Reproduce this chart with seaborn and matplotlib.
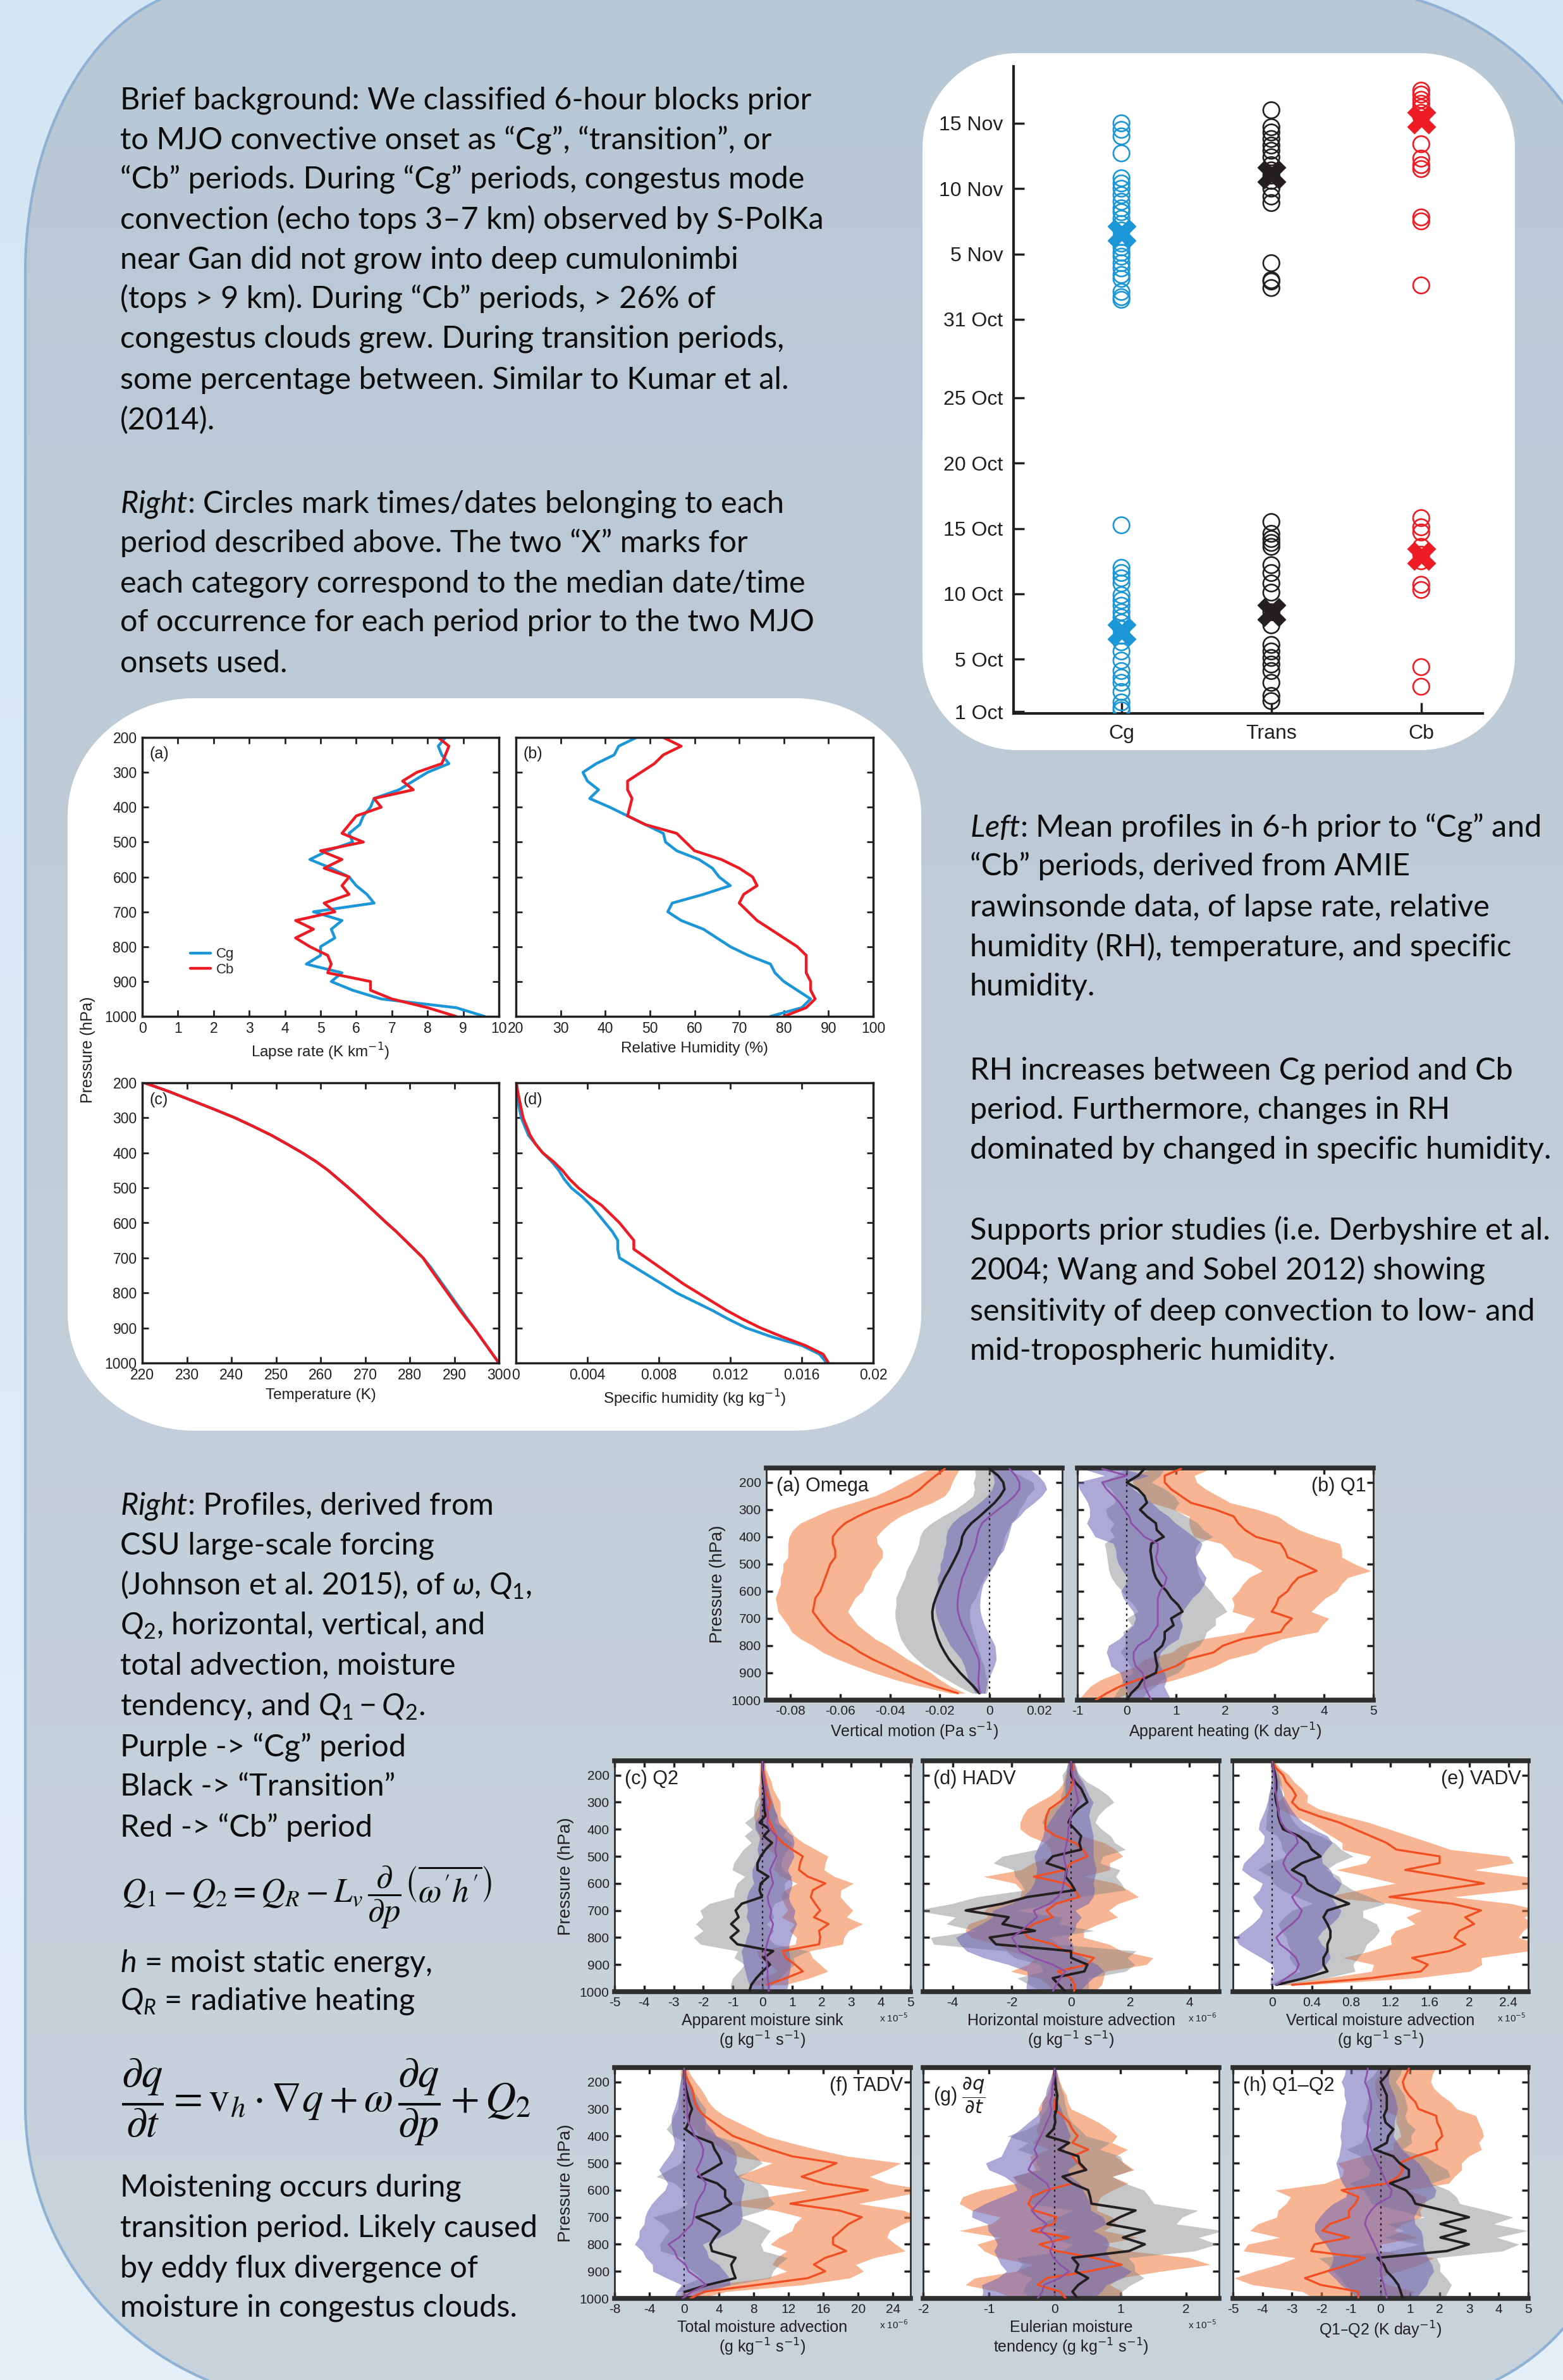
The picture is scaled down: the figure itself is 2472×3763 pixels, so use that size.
import numpy as np
import matplotlib
matplotlib.use("Agg")
import matplotlib.pyplot as plt
from matplotlib.patches import Polygon
from matplotlib.colors import LinearSegmentedColormap
import seaborn as sns

nan = np.nan
W, H = 2472, 3763

# ---------------- data: date classification ----------------
periods = ["Cg", "Trans", "Cb"]
cg_dates = [46.0, 45.5, 45.0, 43.7, 41.8, 41.4, 41.0, 40.5, 40.0, 39.5, 39.2, 38.7, 38.3, 37.8,
            37.3, 36.8, 36.5, 36.1, 35.8, 35.3, 34.9, 34.4, 34.1, 33.1, 32.7, 32.5,
            15.25, 12.0, 11.6, 11.2, 10.8, 9.9, 9.5, 9.1, 8.6, 8.2, 7.8, 7.3, 6.8, 6.3,
            5.6, 4.9, 4.1, 3.6, 3.2, 2.5, 1.7, 1.3, 1.1]
trans_dates = [47.0, 45.7, 45.3, 44.8, 44.3, 43.9, 43.4, 42.8, 42.4, 42.0, 41.6, 41.0, 40.4,
               39.9, 35.3, 34.0, 33.9, 33.4,
               15.5, 14.6, 14.2, 13.9, 13.6, 12.2, 11.6, 10.8, 10.1, 8.6, 7.6, 6.1, 5.6,
               5.1, 4.6, 4.1, 3.2, 2.2, 1.8]
cb_dates = [48.5, 48.2, 47.8, 47.5, 47.2, 46.8, 46.5, 44.4, 43.3, 42.8, 42.5, 38.8, 38.5, 33.6,
            15.8, 15.1, 14.7, 13.6, 13.0, 12.5, 10.7, 10.3, 4.4, 2.9]
cg_median = [37.6, 7.1]
trans_median = [42.1, 8.6]
cb_median = [46.3, 12.9]
date_ticks = [1, 5, 10, 15, 20, 25, 31, 36, 41, 46]
date_labels = ["1 Oct", "5 Oct", "10 Oct", "15 Oct", "20 Oct", "25 Oct", "31 Oct",
               "5 Nov", "10 Nov", "15 Nov"]

# ---------------- data: sounding profiles ----------------
prof_lev = [200, 225, 250, 275, 300, 325, 350, 375, 400, 425, 450, 475, 500, 525, 550, 575, 600,
            625, 650, 675, 700, 725, 750, 775, 800, 825, 850, 875, 900, 925, 950, 975, 1000]
lapse_cg = [8.5, 8.3, 8.4, 8.6, 8.0, 7.6, 7.2, 6.5, 6.4, 6.2, 6.1, 5.8, 5.9, 5.2, 4.7, 5.3, 5.8,
            6.0, 6.3, 6.5, 4.8, 5.6, 5.3, 5.4, 5.0, 5.0, 4.6, 5.6, 5.3, 5.9, 6.7, 8.8, 9.6]
lapse_cb = [8.3, 8.6, 8.5, 8.4, 7.7, 7.3, 7.6, 6.5, 6.7, 6.0, 5.8, 5.6, 6.2, 5.0, 5.6, 5.1, 5.8,
            5.6, 5.8, 5.1, 5.4, 4.3, 4.8, 4.3, 4.7, 5.2, 5.3, 5.2, 6.4, 6.4, 7.0, 8.0, 8.8]
rh_cg = [47, 43, 42, 38, 35, 36, 38.5, 36.5, 41, 45, 49, 53, 53.5, 56, 61, 64, 65.5,
         68, 62, 55, 54, 57, 62, 65, 68, 72, 77, 78, 80, 83, 86, 84, 77]
rh_cb = [53, 57, 53, 51, 48, 45, 45, 46, 45.5, 45, 49, 56, 58, 60, 66, 70, 73,
         74, 71, 70, 72, 74, 77, 80, 83, 85, 85, 85, 86, 86, 87, 85, 80]
temp_cg = [220.5, 226, 231, 236, 240.8, 245, 249, 252.5, 255.9, 259, 261.7, 264, 266.3, 268.5,
           270.6, 272.7, 274.8, 277, 279, 281, 283, 284.6, 286, 287.4, 288.8, 290.2, 291.6,
           293, 294.4, 295.8, 297.2, 298.6, 300]
temp_cb = [220.5, 226, 231, 236, 240.8, 245, 249, 252.5, 255.9, 259, 261.7, 264, 266.3, 268.5,
           270.6, 272.7, 274.8, 277, 279, 281, 283, 284.3, 285.7, 287.1, 288.5, 289.9, 291.3,
           292.8, 294.4, 295.8, 297.2, 298.6, 300]
q_cg = [0.00002, 0.00005, 0.0001, 0.0002, 0.0003, 0.0005, 0.0007, 0.0011, 0.0015, 0.0020, 0.0024,
        0.0027, 0.0031, 0.0037, 0.0042, 0.0046, 0.0050, 0.0054, 0.0057, 0.0057, 0.0058, 0.0066,
        0.0074, 0.0082, 0.0090, 0.0100, 0.0110, 0.0119, 0.0129, 0.0143, 0.0160, 0.0170, 0.0174]
q_cb = [0.00003, 0.0001, 0.0002, 0.0003, 0.0004, 0.0006, 0.0008, 0.0011, 0.0015, 0.0021, 0.0026,
        0.0030, 0.0035, 0.0041, 0.0048, 0.0053, 0.0058, 0.0062, 0.0066, 0.0066, 0.0073, 0.0080,
        0.0087, 0.0094, 0.0102, 0.0110, 0.0118, 0.0127, 0.0137, 0.0149, 0.0162, 0.0172, 0.0175]

# ---------------- data: large-scale forcing composites ----------------
lev = [150, 175, 200, 225, 250, 275, 300, 325, 350, 375, 400, 425, 450, 475, 500, 525, 550, 575,
       600, 625, 650, 675, 700, 725, 750, 775, 800, 825, 850, 875, 900, 925, 950, 975, 1000]

omega_cb = [-0.018, -0.0216, -0.025, -0.028, -0.032, -0.039, -0.047, -0.053, -0.058, -0.061, -0.063, -0.063, -0.062, -0.062, -0.064, -0.065, -0.066, -0.067, -0.068, -0.070, -0.0705, -0.071, -0.069, -0.067, -0.0645, -0.061, -0.056, -0.052, -0.047, -0.041, -0.035, -0.029, -0.0216, -0.0127, nan]
omega_cb_sd = [0.006, 0.008, 0.010, 0.012, 0.014, 0.016, 0.017, 0.017, 0.018, 0.018, 0.0175, 0.018, 0.019, 0.019, 0.019, 0.018, 0.018, 0.017, 0.017, 0.016, 0.015, 0.014, 0.014, 0.014, 0.015, 0.015, 0.015, 0.015, 0.014, 0.013, 0.0115, 0.009, 0.006, 0.003, nan]
omega_tr = [0.0, 0.0034, 0.0055, 0.006, 0.0043, 0.002, -0.001, -0.004, -0.0073, -0.0096, -0.011, -0.0114, -0.0123, -0.0136, -0.015, -0.0164, -0.018, -0.0193, -0.0205, -0.0216, -0.0225, -0.023, -0.0229, -0.0223, -0.0216, -0.0207, -0.0195, -0.018, -0.0163, -0.0141, -0.0118, -0.0091, -0.0064, -0.0041, nan]
omega_tr_sd = [0.006, 0.009, 0.012, 0.012, 0.011, 0.012, 0.013, 0.015, 0.016, 0.017, 0.017, 0.017, 0.017, 0.017, 0.017, 0.017, 0.016, 0.016, 0.016, 0.016, 0.015, 0.015, 0.015, 0.015, 0.015, 0.015, 0.0145, 0.014, 0.013, 0.012, 0.010, 0.008, 0.006, 0.003, nan]
omega_cg = [0.008, 0.0105, 0.012, 0.012, 0.010, 0.007, 0.0034, 0.0, -0.003, -0.0043, -0.005, -0.0055, -0.0064, -0.0077, -0.0088, -0.0098, -0.011, -0.0116, -0.0123, -0.0127, -0.0129, -0.0127, -0.012, -0.011, -0.0096, -0.0082, -0.0068, -0.0055, -0.0043, -0.0041, -0.0043, -0.0045, -0.0043, -0.0037, nan]
omega_cg_sd = [0.008, 0.009, 0.010, 0.011, 0.011, 0.011, 0.011, 0.012, 0.012, 0.0125, 0.0125, 0.012, 0.012, 0.011, 0.011, 0.010, 0.010, 0.009, 0.009, 0.009, 0.009, 0.009, 0.009, 0.009, 0.009, 0.009, 0.009, 0.008, 0.007, 0.006, 0.005, 0.004, 0.003, 0.002, nan]

q1_cb = [1.1, 0.77, 0.77, 0.9, 1.1, 1.3, 1.8, 2.17, 2.26, 2.4, 2.62, 3.12, 3.21, 3.26, 3.57, 3.85, 3.48, 3.35, 3.26, 3.08, 3.03, 2.94, 3.35, 3.21, 3.12, 2.35, 1.95, 1.76, 1.22, 1.0, 0.63, 0.23, -0.14, -0.41, -0.63]
q1_cb_sd = [0.6, 0.6, 0.65, 0.7, 0.75, 0.8, 0.85, 0.9, 1.0, 1.1, 1.25, 1.2, 1.15, 1.1, 1.05, 1.1, 1.0, 1.0, 1.0, 0.95, 0.85, 0.8, 0.75, 0.75, 0.75, 0.8, 0.85, 0.85, 0.85, 0.8, 0.8, 0.75, 0.6, 0.45, 0.35]
q1_tr = [0.36, 0.23, 0.0, 0.23, 0.36, 0.41, 0.27, 0.41, 0.59, 0.61, 0.75, 0.5, 0.48, 0.5, 0.52, 0.54, 0.59, 0.68, 0.81, 0.9, 1.04, 1.13, 0.9, 0.95, 0.77, 0.77, 0.72, 0.57, 0.59, 0.62, 0.59, 0.32, 0.23, 0.09, 0.0]
q1_tr_sd = [0.4, 0.45, 0.5, 0.55, 0.6, 0.65, 0.7, 0.8, 0.85, 0.95, 1.0, 0.95, 0.9, 0.9, 0.9, 0.9, 0.9, 0.9, 0.9, 0.9, 0.9, 0.9, 0.9, 0.85, 0.85, 0.8, 0.75, 0.7, 0.6, 0.55, 0.45, 0.4, 0.35, 0.3, 0.3]
q1_cg = [-0.5, 0.0, -0.5, -0.41, -0.27, -0.14, -0.05, 0.05, 0.09, 0.23, 0.36, 0.63, 0.63, 0.59, 0.63, 0.72, 0.81, 0.77, 0.68, 0.63, 0.63, 0.63, 0.63, 0.63, 0.54, 0.45, 0.23, 0.14, 0.14, 0.18, 0.32, 0.36, 0.36, 0.43, 0.5]
q1_cg_sd = [0.4, 0.45, 0.5, 0.55, 0.6, 0.65, 0.7, 0.8, 0.9, 0.95, 1.0, 0.9, 0.85, 0.8, 0.8, 0.8, 0.8, 0.8, 0.8, 0.7, 0.6, 0.5, 0.45, 0.5, 0.55, 0.6, 0.6, 0.55, 0.5, 0.5, 0.45, 0.45, 0.4, 0.4, 0.4]

q2_cb = [0.0, 0.0, 0.05, 0.1, 0.1, 0.17, 0.25, 0.2, 0.15, 0.25, 0.36, 0.47, 0.68, 1.0, 1.36, 1.27, 1.23, 1.53, 2.12, 1.7, 1.63, 1.78, 1.95, 1.74, 2.23, 1.91, 1.95, 1.91, 0.68, 0.79, 1.1, 1.36, 0.79, 0.15, nan]
q2_cb_sd = [0.1, 0.1, 0.15, 0.2, 0.25, 0.3, 0.35, 0.4, 0.45, 0.5, 0.55, 0.6, 0.7, 0.8, 0.85, 0.85, 0.85, 0.9, 0.95, 0.95, 1.0, 1.05, 1.1, 1.1, 1.15, 1.0, 0.8, 0.8, 0.9, 0.9, 0.85, 0.85, 0.8, 0.6, nan]
q2_tr = [0.0, 0.0, 0.0, 0.02, 0.05, 0.08, 0.05, 0.06, 0.1, -0.1, 0.25, 0.04, 0.32, 0.1, -0.06, -0.17, -0.17, 0.2, -0.06, -0.1, -0.02, -0.7, -0.91, -0.81, -1.06, -0.81, -1.08, -0.85, 0.36, 0.04, 0.25, 0.0, -0.21, -0.38, -0.45]
q2_tr_sd = [0.05, 0.05, 0.08, 0.1, 0.15, 0.2, 0.3, 0.35, 0.4, 0.5, 0.6, 0.65, 0.7, 0.75, 0.75, 0.8, 0.85, 0.8, 0.8, 0.85, 0.95, 1.1, 1.2, 1.2, 1.2, 1.2, 1.25, 1.25, 1.2, 1.0, 0.85, 0.8, 0.8, 0.7, 0.6]
q2_cg = [0.0, 0.0, 0.02, 0.05, 0.08, 0.1, 0.12, 0.15, 0.2, 0.15, 0.25, 0.47, 0.47, 0.42, 0.47, 0.36, 0.25, 0.3, 0.36, 0.25, 0.17, 0.21, 0.3, 0.25, 0.36, 0.3, 0.21, 0.15, 0.08, 0.13, 0.15, 0.17, 0.17, 0.21, 0.21]
q2_cg_sd = [0.05, 0.06, 0.08, 0.1, 0.12, 0.15, 0.2, 0.25, 0.3, 0.4, 0.5, 0.55, 0.6, 0.6, 0.6, 0.6, 0.6, 0.65, 0.65, 0.7, 0.7, 0.75, 0.8, 0.8, 0.8, 0.75, 0.75, 0.75, 0.8, 0.8, 0.8, 0.75, 0.7, 0.65, 0.6]

hadv_cb = [0.0, 0.05, 0.0, 0.06, 0.0, -0.13, -0.4, -0.73, -0.83, -0.87, -0.87, -0.51, 0.13, 0.4, 0.55, 0.0, -0.19, -1.26, -0.19, 0.13, 0.28, -0.51, -0.83, -0.62, -1.26, -1.58, -1.47, -0.62, -0.19, 0.77, 0.55, -0.45, 0.0, 0.13, 0.1]
hadv_cb_sd = [0.1, 0.15, 0.2, 0.3, 0.4, 0.55, 0.7, 0.75, 0.8, 0.85, 0.85, 0.9, 1.0, 1.1, 1.2, 1.3, 1.5, 1.7, 1.7, 1.8, 2.0, 2.1, 2.1, 2.2, 2.2, 2.0, 1.9, 1.9, 1.9, 2.0, 2.0, 1.6, 1.1, 0.9, 0.7]
hadv_tr = [0.0, 0.0, 0.0, 0.13, 0.34, 0.45, 0.55, 0.23, 0.02, -0.09, 0.13, 0.34, 0.28, 0.34, -0.62, -0.83, -0.15, -0.19, 0.0, 0.13, -1.47, -2.32, -3.56, -2.11, -2.32, -1.22, -2.75, -2.54, 0.0, 0.0, 0.55, 0.45, -0.62, -0.41, -0.19]
hadv_tr_sd = [0.1, 0.15, 0.3, 0.4, 0.6, 0.8, 0.9, 0.9, 0.9, 0.9, 0.9, 1.0, 1.2, 1.5, 1.7, 1.8, 1.8, 1.7, 1.7, 1.7, 1.7, 1.7, 1.7, 1.8, 1.9, 2.0, 2.0, 2.1, 2.2, 1.9, 1.6, 1.4, 1.2, 1.0, 0.8]
hadv_cg = [0.0, 0.0, 0.05, 0.1, 0.15, 0.2, 0.25, 0.1, 0.0, -0.05, -0.1, -0.1, -0.15, -0.2, -0.25, -0.2, -0.15, -0.2, -0.25, -0.3, -0.45, -0.72, -1.26, -1.15, -1.43, -1.68, -2.0, -1.85, -1.73, -1.26, -0.62, -0.19, -0.36, -0.51, -0.62]
hadv_cg_sd = [0.1, 0.15, 0.2, 0.3, 0.35, 0.4, 0.5, 0.55, 0.6, 0.7, 0.8, 0.85, 0.9, 0.95, 1.0, 1.0, 1.0, 1.0, 1.0, 1.1, 1.2, 1.3, 1.4, 1.5, 1.6, 1.8, 1.9, 1.9, 1.8, 1.7, 1.5, 1.3, 1.1, 1.0, 0.9]

vadv_cb = [0.0, 0.04, 0.11, 0.14, 0.2, 0.24, 0.2, 0.27, 0.46, 0.68, 0.84, 1.0, 1.16, 1.26, 1.7, 1.7, 1.35, 1.77, 2.15, 1.67, 1.19, 1.83, 2.12, 1.96, 2.05, 1.9, 1.85, 1.96, 1.8, 1.42, 1.58, 1.51, 1.0, 0.2, nan]
vadv_cb_sd = [0.02, 0.04, 0.06, 0.08, 0.1, 0.12, 0.15, 0.2, 0.25, 0.3, 0.35, 0.4, 0.45, 0.55, 0.7, 0.75, 0.7, 0.8, 0.9, 0.8, 0.65, 0.6, 0.6, 0.6, 0.6, 0.65, 0.65, 0.75, 0.8, 0.7, 0.55, 0.5, 0.45, 0.15, nan]
vadv_tr = [0.0, 0.01, 0.03, 0.04, 0.04, 0.03, 0.04, 0.06, 0.06, 0.08, 0.11, 0.27, 0.36, 0.4, 0.49, 0.3, 0.2, 0.33, 0.36, 0.46, 0.62, 0.78, 0.56, 0.52, 0.56, 0.59, 0.59, 0.56, 0.56, 0.52, 0.52, 0.56, 0.33, 0.04, nan]
vadv_tr_sd = [0.02, 0.03, 0.04, 0.05, 0.06, 0.07, 0.08, 0.1, 0.12, 0.14, 0.18, 0.22, 0.27, 0.3, 0.33, 0.35, 0.35, 0.35, 0.35, 0.36, 0.37, 0.37, 0.36, 0.4, 0.5, 0.5, 0.45, 0.4, 0.37, 0.35, 0.3, 0.28, 0.22, 0.08, nan]
vadv_cg = [0.0, 0.01, 0.02, 0.03, 0.03, 0.04, 0.05, 0.06, 0.07, 0.09, 0.14, 0.24, 0.26, 0.2, 0.14, 0.11, 0.14, 0.2, 0.3, 0.27, 0.2, 0.24, 0.3, 0.27, 0.2, 0.11, 0.04, 0.08, 0.17, 0.24, 0.27, 0.24, 0.14, 0.04, nan]
vadv_cg_sd = [0.01, 0.02, 0.03, 0.04, 0.05, 0.07, 0.1, 0.13, 0.17, 0.22, 0.28, 0.32, 0.35, 0.35, 0.36, 0.4, 0.45, 0.42, 0.4, 0.4, 0.4, 0.4, 0.4, 0.4, 0.4, 0.4, 0.42, 0.42, 0.4, 0.35, 0.27, 0.22, 0.16, 0.06, nan]

tadv_cb = [0.0, 0.15, 0.5, 0.9, 1.1, 1.2, 1.6, 2.3, 3.4, 4.5, 5.6, 7.7, 9.9, 12.4, 17.5, 15.7, 13.5, 16.0, 21.1, 16.8, 12.2, 17.8, 20.4, 18.9, 18.0, 17.1, 17.1, 18.6, 16.2, 14.9, 16.2, 14.2, 8.4, 2.3, 0.7]
tadv_cb_sd = [0.4, 0.6, 0.8, 1.0, 1.3, 1.6, 1.9, 2.3, 2.8, 3.3, 3.8, 4.5, 5.4, 6.4, 7.4, 7.6, 7.8, 7.4, 7.0, 7.4, 7.8, 7.4, 6.9, 6.2, 5.6, 6.2, 7.2, 6.8, 5.6, 4.8, 4.4, 4.8, 5.2, 2.5, 1.2]
tadv_tr = [0.0, 0.0, 0.07, 0.2, 0.4, 0.6, 0.9, 0.6, 0.5, 0.15, 1.2, 3.2, 3.5, 4.0, 4.3, 3.0, 1.6, 3.8, 4.7, 4.7, 5.4, 4.1, 1.4, 3.0, 4.1, 3.5, 3.0, 3.2, 5.9, 5.4, 5.6, 5.9, 2.7, 0.15, nan]
tadv_tr_sd = [0.2, 0.3, 0.5, 0.7, 1.0, 1.3, 1.6, 1.8, 2.0, 2.2, 2.5, 3.0, 3.6, 4.2, 4.7, 4.8, 4.8, 4.9, 4.9, 5.0, 5.0, 5.0, 5.0, 5.4, 5.8, 5.8, 5.8, 5.9, 6.0, 5.5, 4.6, 4.0, 2.8, 1.0, nan]
tadv_cg = [0.0, 0.0, 0.05, 0.1, 0.2, 0.3, 0.36, 0.36, 0.5, 0.9, 1.2, 1.9, 2.2, 2.1, 1.8, 1.4, 1.9, 2.5, 2.3, 1.8, 1.4, 1.2, 1.1, 0.9, 0.15, -0.6, -1.8, -1.1, -0.8, 0.15, 0.5, 1.6, 2.5, 0.9, -0.2]
tadv_cg_sd = [0.2, 0.3, 0.5, 0.7, 0.9, 1.2, 1.5, 1.8, 2.0, 2.3, 2.5, 3.0, 3.5, 3.9, 4.2, 4.3, 4.3, 4.4, 4.5, 4.8, 5.1, 5.4, 5.6, 5.5, 5.3, 4.6, 3.9, 3.7, 3.6, 3.8, 4.1, 3.6, 2.8, 1.8, 1.0]

dqdt_cb = [0.0, 0.0, 0.01, 0.02, 0.03, 0.0, 0.0, 0.12, 0.22, 0.27, 0.35, 0.27, 0.51, 0.27, 0.36, 0.46, 0.12, 0.27, -0.12, -0.35, -0.4, -0.31, 0.03, -0.02, -0.35, 0.22, -0.23, 0.03, 0.6, 1.02, 0.51, -0.12, -0.26, 0.08, 0.17]
dqdt_cb_sd = [0.02, 0.05, 0.07, 0.1, 0.15, 0.2, 0.25, 0.35, 0.45, 0.55, 0.6, 0.6, 0.6, 0.65, 0.7, 0.75, 0.75, 0.85, 1.0, 1.05, 1.05, 0.95, 0.85, 0.95, 1.1, 1.05, 0.95, 1.1, 1.45, 1.35, 1.1, 1.1, 1.1, 0.95, 0.8]
dqdt_tr = [0.0, 0.0, 0.01, 0.02, 0.04, 0.03, 0.03, 0.0, 0.01, -0.02, -0.12, 0.22, 0.06, 0.36, 0.38, 0.48, 0.12, 0.27, 0.51, 0.54, 0.56, 1.23, 0.99, 0.8, 1.37, 1.04, 1.37, 1.13, 0.27, 0.36, 0.32, 0.51, 0.36, 0.27, 0.35]
dqdt_tr_sd = [0.02, 0.04, 0.06, 0.08, 0.1, 0.12, 0.15, 0.2, 0.25, 0.4, 0.6, 0.62, 0.62, 0.64, 0.66, 0.7, 0.76, 0.8, 0.85, 0.9, 0.95, 0.95, 0.95, 1.05, 1.2, 1.15, 1.1, 1.0, 0.85, 0.85, 0.9, 0.85, 0.8, 0.75, 0.7]
dqdt_cg = [0.0, 0.0, -0.02, -0.04, -0.04, -0.07, -0.05, -0.07, -0.12, -0.16, -0.21, -0.26, -0.31, -0.26, -0.35, -0.4, -0.26, -0.12, -0.07, -0.16, -0.26, -0.35, -0.26, -0.12, -0.21, -0.07, -0.02, -0.07, -0.02, 0.08, 0.22, 0.08, -0.16, -0.19, -0.26]
dqdt_cg_sd = [0.02, 0.04, 0.06, 0.08, 0.1, 0.12, 0.15, 0.2, 0.28, 0.36, 0.45, 0.45, 0.45, 0.55, 0.7, 0.6, 0.5, 0.5, 0.5, 0.65, 0.8, 0.9, 1.0, 0.9, 0.8, 0.85, 0.85, 0.85, 0.85, 0.9, 0.95, 0.95, 0.95, 0.9, 0.85]

q12_cb = [0.96, 0.85, 0.75, 0.81, 0.96, 1.18, 1.28, 1.88, 1.92, 2.03, 2.09, 1.88, 1.92, 1.18, 0.64, 0.75, 0.6, 0.21, -1.32, -0.75, -0.85, -1.07, -1.07, -1.71, -1.97, -1.07, -2.24, -2.35, -0.53, -1.07, -1.82, -2.56, -2.03, -0.75, -0.75]
q12_cb_sd = [0.9, 0.9, 0.95, 1.0, 1.1, 1.2, 1.3, 1.35, 1.4, 1.4, 1.4, 1.45, 1.5, 1.8, 2.1, 2.0, 1.9, 2.1, 2.25, 2.3, 2.35, 2.4, 2.45, 2.45, 2.45, 2.35, 2.25, 2.3, 2.35, 2.4, 2.45, 2.4, 2.3, 1.9, 1.5]
q12_tr = [0.32, 0.21, 0.0, 0.11, 0.21, 0.21, 0.21, 0.11, 0.17, 0.43, 0.26, 0.21, -0.21, 0.43, 0.64, 0.96, 0.96, 0.32, 0.85, 1.07, 1.18, 2.14, 2.99, 2.03, 2.88, 2.03, 2.99, 2.24, -0.11, 0.11, 0.21, 0.43, 0.6, 0.68, 0.75]
q12_tr_sd = [0.4, 0.45, 0.5, 0.55, 0.6, 0.65, 0.7, 0.72, 0.74, 0.75, 0.76, 0.85, 0.95, 1.1, 1.2, 1.3, 1.4, 1.4, 1.45, 1.5, 1.5, 1.5, 1.5, 1.8, 2.1, 1.9, 1.7, 1.9, 2.0, 1.9, 1.8, 1.8, 1.8, 1.6, 1.4]
q12_cg = [-0.43, -0.47, -0.53, -0.43, -0.38, -0.32, -0.32, -0.38, -0.43, -0.43, -0.47, -0.38, -0.32, -0.21, -0.11, 0.0, 0.11, 0.21, 0.38, 0.32, -0.11, -0.32, -0.47, -0.53, -0.43, -0.32, -0.21, -0.11, 0.0, 0.04, 0.0, 0.04, 0.11, 0.17, 0.21]
q12_cg_sd = [0.75, 0.75, 0.8, 0.8, 0.85, 0.85, 0.9, 0.9, 0.9, 0.9, 0.9, 0.95, 1.05, 1.2, 1.4, 1.45, 1.5, 1.5, 1.5, 1.5, 1.5, 1.55, 1.6, 1.7, 1.8, 1.75, 1.65, 1.6, 1.6, 1.7, 1.8, 1.6, 1.45, 1.2, 1.0]

# ---------------- style ----------------
sns.set_theme(style="ticks")
plt.rcParams["font.family"] = ["Liberation Sans", "DejaVu Sans"]
plt.rcParams["axes.unicode_minus"] = False
plt.rcParams["mathtext.rm"] = "Lato"
plt.rcParams["mathtext.it"] = "Lato:italic"
plt.rcParams["mathtext.bf"] = "Lato:bold"

BLUE, RED, BLACK = "#1b96d6", "#ed1c24", "#231f20"
ORANGE_L, ORANGE_F = "#f04e23", "#f4793b"
GRAY_F = "#7f8184"
PURPLE_L, PURPLE_F = "#8e4fa8", "#6b63b5"
TXT = "#0d0d0d"

fig = plt.figure(figsize=(W / 100, H / 100), dpi=100)


def box_pts(x0, y0, x1, y1, tl, tr, br, bl):
    t = np.linspace(0, 0.5 * np.pi, 40)
    xs, ys = [], []
    xs += list(x0 + tl[0] - tl[0] * np.cos(t)); ys += list(y0 + tl[1] - tl[1] * np.sin(t))
    xs += list(x1 - tr[0] + tr[0] * np.sin(t)); ys += list(y0 + tr[1] - tr[1] * np.cos(t))
    xs += list(x1 - br[0] + br[0] * np.cos(t)); ys += list(y1 - br[1] + br[1] * np.sin(t))
    xs += list(x0 + bl[0] - bl[0] * np.sin(t)); ys += list(y1 - bl[1] + bl[1] * np.cos(t))
    return np.column_stack([xs, ys])


def px_axes(x0, y0, x1, y1):
    return fig.add_axes([x0 / W, 1 - y1 / H, (x1 - x0) / W, (y1 - y0) / H])


# ---------------- poster background ----------------
bg = fig.add_axes([0, 0, 1, 1])
bg.set_xlim(0, W)
bg.set_ylim(H, 0)
bg.axis("off")
grad = np.linspace(0, 1, 256).reshape(-1, 1)
bg.imshow(grad, extent=(0, W, H, 0), aspect="auto", zorder=0,
          cmap=LinearSegmentedColormap.from_list("outer", ["#d4e5f4", "#e5eff8"]))
panel_pts = box_pts(40, -20, 2560, 3800, (300, 450), (450, 450), (350, 350), (470, 470))
panel_clip = Polygon(panel_pts, closed=True, fc="none", ec="none")
bg.add_patch(panel_clip)
im = bg.imshow(grad, extent=(0, W, H, 0), aspect="auto", zorder=1,
               cmap=LinearSegmentedColormap.from_list("panel", ["#b9c8d5", "#c9d3dc"]))
im.set_clip_path(panel_clip)
bg.add_patch(Polygon(panel_pts, closed=True, fc="none", ec="#8fb2d4", lw=3, zorder=2))
bg.add_patch(Polygon(box_pts(1459, 84, 2396, 1186, (150, 150), (150, 150), (150, 150), (150, 150)),
                     closed=True, fc="white", ec="none", zorder=3))
bg.add_patch(Polygon(box_pts(107, 1104, 1457, 2262, (200, 185), (200, 185), (200, 185), (200, 185)),
                     closed=True, fc="white", ec="none", zorder=3))

# ---------------- text blocks ----------------
TFS = 35
block1 = [
    (158, "Brief background: We classified 6-hour blocks prior"),
    (221, "to MJO convective onset as “Cg”, “transition”, or"),
    (283, "“Cb” periods. During “Cg” periods, congestus mode"),
    (348, "convection (echo tops 3–7 km) observed by S-PolKa"),
    (410, "near Gan did not grow into deep cumulonimbi"),
    (473, "(tops > 9 km). During “Cb” periods, > 26% of"),
    (535, "congestus clouds grew. During transition periods,"),
    (600, "some percentage between. Similar to Kumar et al."),
    (665, "(2014)."),
    (797, r"$\it{Right}$: Circles mark times/dates belonging to each"),
    (859, "period described above. The two “X” marks for"),
    (922, "each category correspond to the median date/time"),
    (984, "of occurrence for each period prior to the two MJO"),
    (1049, "onsets used."),
]
block2 = [
    (1308, r"$\it{Left}$: Mean profiles in 6-h prior to “Cg” and"),
    (1370, "“Cb” periods, derived from AMIE"),
    (1435, "rawinsonde data, of lapse rate, relative"),
    (1498, "humidity (RH), temperature, and specific"),
    (1560, "humidity."),
    (1692, "RH increases between Cg period and Cb"),
    (1754, "period. Furthermore, changes in RH"),
    (1817, "dominated by changed in specific humidity."),
    (1946, "Supports prior studies (i.e. Derbyshire et al."),
    (2009, "2004; Wang and Sobel 2012) showing"),
    (2074, "sensitivity of deep convection to low- and"),
    (2136, "mid-tropospheric humidity."),
]
block3 = [
    (2381, r"$\it{Right}$: Profiles, derived from"),
    (2443, "CSU large-scale forcing"),
    (2506, r"(Johnson et al. 2015), of $\it{\omega}$, $\it{Q_1}$,"),
    (2570, r"$\it{Q_2}$, horizontal, vertical, and"),
    (2633, "total advection, moisture"),
    (2698, r"tendency, and $\it{Q_1} - \it{Q_2}$."),
    (2762, "Purple -> “Cg” period"),
    (2825, "Black -> “Transition”"),
    (2890, "Red -> “Cb” period"),
    (3103, r"$\it{h}$ = moist static energy,"),
    (3163, r"$\it{Q_R}$ = radiative heating"),
    (3458, "Moistening occurs during"),
    (3523, "transition period. Likely caused"),
    (3586, "by eddy flux divergence of"),
    (3648, "moisture in congestus clouds."),
]
for x0, block in [(190, block1), (1534, block2), (190, block3)]:
    for y, s in block:
        bg.text(x0, y + 14, s, fontsize=TFS, family="Lato", color=TXT, va="baseline",
                ha="left", math_fontfamily="custom", zorder=5)
bg.text(192, 3000, r"$Q_1 - Q_2 = Q_R - L_v\,\dfrac{\partial}{\partial p}\left(\overline{\omega' h'}\right)$",
        fontsize=38, math_fontfamily="stix", va="center", ha="left", color=TXT, zorder=5)
bg.text(192, 3324, r"$\dfrac{\partial q}{\partial t} = \mathrm{v}_h \cdot \nabla q + \omega\,\dfrac{\partial q}{\partial p} + Q_2$",
        fontsize=48, math_fontfamily="stix", va="center", ha="left", color=TXT, zorder=5)

# ---------------- date chart ----------------
axd = px_axes(1603, 105, 2345, 1128)
axd.set_facecolor("none")
for name, days, med, col in zip(periods, [cg_dates, trans_dates, cb_dates],
                                [cg_median, trans_median, cb_median], [BLUE, BLACK, RED]):
    sns.scatterplot(x=[name] * len(days), y=days, ax=axd, s=340, color=col, facecolor="none",
                    edgecolor=col, linewidth=1.9, legend=False, zorder=3)
    sns.scatterplot(x=[name] * len(med), y=med, ax=axd, marker="X", s=1050, color=col,
                    edgecolor=col, linewidth=0.5, legend=False, zorder=4)
axd.set_xlim(-0.72, 2.41)
axd.set_ylim(0.855, 50.35)
axd.set_yticks(date_ticks, labels=date_labels)
for side in ["top", "right"]:
    axd.spines[side].set_visible(False)
for side in ["left", "bottom"]:
    axd.spines[side].set_linewidth(3)
    axd.spines[side].set_color(BLACK)
axd.tick_params(direction="in", length=12, width=2.5, labelsize=23, pad=12, colors=BLACK)
axd.set_xlabel("")
axd.set_ylabel("")

# ---------------- sounding profiles ----------------
prof_boxes = [(225, 1166, 789, 1607), (816, 1166, 1381, 1607),
              (225, 1712, 789, 2155), (816, 1712, 1381, 2155)]
prof_specs = [
    (lapse_cg, lapse_cb, (0, 10), list(range(0, 11)), [str(v) for v in range(0, 11)],
     "Lapse rate (K km$^{-1}$)", "(a)", True),
    (rh_cg, rh_cb, (20, 100), list(range(20, 101, 10)), [str(v) for v in range(20, 101, 10)],
     "Relative Humidity (%)", "(b)", False),
    (temp_cg, temp_cb, (220, 300), list(range(220, 301, 10)), [str(v) for v in range(220, 301, 10)],
     "Temperature (K)", "(c)", True),
    (q_cg, q_cb, (0, 0.02), [0, 0.004, 0.008, 0.012, 0.016, 0.02],
     ["0", "0.004", "0.008", "0.012", "0.016", "0.02"], "Specific humidity (kg kg$^{-1}$)", "(d)", False),
]
for box, (cg, cb, xl, xt, xtl, xlab, tag, ylab) in zip(prof_boxes, prof_specs):
    ax = px_axes(*box)
    sns.lineplot(x=cg, y=prof_lev, orient="y", sort=False, estimator=None, color=BLUE, lw=3.2,
                 ax=ax, label="Cg")
    sns.lineplot(x=cb, y=prof_lev, orient="y", sort=False, estimator=None, color=RED, lw=3.2,
                 ax=ax, label="Cb")
    ax.set_xlim(*xl)
    ax.set_ylim(1000, 200)
    ax.set_xticks(xt, labels=xtl)
    ax.set_yticks(list(range(200, 1001, 100)))
    if not ylab:
        ax.set_yticklabels([])
    ax.tick_params(direction="in", length=7, width=2, labelsize=16.5, pad=6,
                   top=True, right=True, colors=BLACK)
    for s in ax.spines.values():
        s.set_linewidth(2.5)
        s.set_color(BLACK)
    ax.set_xlabel(xlab, fontsize=17.5, labelpad=6, color=BLACK)
    ax.set_ylabel("")
    ax.text(0.02, 0.94, tag, transform=ax.transAxes, fontsize=18, va="center", ha="left", color=BLACK)
    if tag == "(a)":
        ax.legend(loc="center left", bbox_to_anchor=(0.1, 0.195), frameon=False, fontsize=16,
                  handlelength=1.4, handletextpad=0.4, labelspacing=0.15)
    else:
        ax.get_legend().remove()
bg.text(139, 1660, "Pressure (hPa)", rotation=90, fontsize=18, va="center", ha="center",
        color=BLACK, zorder=5)

# ---------------- large-scale forcing panels ----------------
forcing = [
    ((1212, 2321, 1680, 2688), omega_cg, omega_cg_sd, omega_tr, omega_tr_sd, omega_cb, omega_cb_sd,
     (-0.0897, 0.0292), [-0.08, -0.06, -0.04, -0.02, 0, 0.02], ["-0.08", "-0.06", "-0.04", "-0.02", "0", "0.02"],
     "Vertical motion (Pa s$^{-1}$)", "(a) Omega", "left", True, ""),
    ((1704, 2321, 2172, 2688), q1_cg, q1_cg_sd, q1_tr, q1_tr_sd, q1_cb, q1_cb_sd,
     (-1, 5), list(range(-1, 6)), [str(v) for v in range(-1, 6)],
     "Apparent heating (K day$^{-1}$)", "(b) Q1", "right", False, ""),
    ((972, 2784, 1440, 3149), q2_cg, q2_cg_sd, q2_tr, q2_tr_sd, q2_cb, q2_cb_sd,
     (-5, 5), list(range(-5, 6)), [str(v) for v in range(-5, 6)],
     "Apparent moisture sink\n(g kg$^{-1}$ s$^{-1}$)", "(c) Q2", "left", True, "x 10$^{-5}$"),
    ((1460, 2784, 1928, 3149), hadv_cg, hadv_cg_sd, hadv_tr, hadv_tr_sd, hadv_cb, hadv_cb_sd,
     (-5, 5), [-4, -2, 0, 2, 4], ["-4", "-2", "0", "2", "4"],
     "Horizontal moisture advection\n(g kg$^{-1}$ s$^{-1}$)", "(d) HADV", "left", False, "x 10$^{-6}$"),
    ((1950, 2784, 2417, 3149), vadv_cg, vadv_cg_sd, vadv_tr, vadv_tr_sd, vadv_cb, vadv_cb_sd,
     (-0.4, 2.6), [0, 0.4, 0.8, 1.2, 1.6, 2.0, 2.4], ["0", "0.4", "0.8", "1.2", "1.6", "2", "2.4"],
     "Vertical moisture advection\n(g kg$^{-1}$ s$^{-1}$)", "(e) VADV", "right", False, "x 10$^{-5}$"),
    ((972, 3269, 1440, 3634), tadv_cg, tadv_cg_sd, tadv_tr, tadv_tr_sd, tadv_cb, tadv_cb_sd,
     (-8, 26), list(range(-8, 25, 4)), [str(v) for v in range(-8, 25, 4)],
     "Total moisture advection\n(g kg$^{-1}$ s$^{-1}$)", "(f) TADV", "right", True, "x 10$^{-6}$"),
    ((1460, 3269, 1928, 3634), dqdt_cg, dqdt_cg_sd, dqdt_tr, dqdt_tr_sd, dqdt_cb, dqdt_cb_sd,
     (-2, 2.5), [-2, -1, 0, 1, 2], ["-2", "-1", "0", "1", "2"],
     "Eulerian moisture\ntendency (g kg$^{-1}$ s$^{-1}$)", r"(g) $\dfrac{\partial q}{\partial t}$", "left", False, "x 10$^{-5}$"),
    ((1950, 3269, 2417, 3634), q12_cg, q12_cg_sd, q12_tr, q12_tr_sd, q12_cb, q12_cb_sd,
     (-5, 5), list(range(-5, 6)), [str(v) for v in range(-5, 6)],
     "Q1–Q2 (K day$^{-1}$)", "(h) Q1–Q2", "left", False, ""),
]
for (box, cg, cg_sd, tr, tr_sd, cb, cb_sd, xl, xt, xtl, xlab, title, tpos, ylab, scale) in forcing:
    ax = px_axes(*box)
    ax.set_facecolor("white")
    for mean, sd, fc, a in [(cb, cb_sd, ORANGE_F, 0.55), (tr, tr_sd, GRAY_F, 0.45), (cg, cg_sd, PURPLE_F, 0.55)]:
        m, s = np.array(mean), np.array(sd)
        ax.fill_betweenx(lev, m - s, m + s, color=fc, alpha=a, lw=0, zorder=1)
    ax.axvline(0, color=BLACK, ls=(0, (1.5, 2.5)), lw=1.6, zorder=2)
    sns.lineplot(x=cb, y=lev, orient="y", sort=False, estimator=None, color=ORANGE_L, lw=2.4, ax=ax, zorder=3)
    sns.lineplot(x=tr, y=lev, orient="y", sort=False, estimator=None, color=BLACK, lw=2.8, ax=ax, zorder=4)
    sns.lineplot(x=cg, y=lev, orient="y", sort=False, estimator=None, color=PURPLE_L, lw=2.0, ax=ax, zorder=5)
    ax.set_xlim(*xl)
    ax.set_ylim(1000, 147)
    ax.set_xticks(xt, labels=xtl)
    ax.set_yticks(list(range(200, 1001, 100)))
    if not ylab:
        ax.set_yticklabels([])
        ax.set_ylabel("")
    else:
        ax.set_ylabel("Pressure (hPa)", fontsize=20, labelpad=6, color=BLACK)
    ax.tick_params(direction="in", length=7, width=2.5, labelsize=15, pad=6,
                   top=True, right=True, colors=BLACK)
    for side in ["top", "bottom"]:
        ax.spines[side].set_linewidth(5.5)
        ax.spines[side].set_color("#2e2e2e")
    for side in ["left", "right"]:
        ax.spines[side].set_linewidth(2)
        ax.spines[side].set_color("#2e2e2e")
    ax.set_xlabel(xlab, fontsize=18, labelpad=5, color=BLACK, linespacing=1.1)
    if tpos == "left":
        ax.text(0.035, 0.92 if "(g)" not in title else 0.88, title, transform=ax.transAxes,
                fontsize=22, ha="left", va="center", color=BLACK)
    else:
        ax.text(0.975, 0.92, title, transform=ax.transAxes, fontsize=22, ha="right", va="center", color=BLACK)
    if scale:
        ax.text(0.945, -0.115, scale, transform=ax.transAxes, fontsize=11, ha="center", va="center", color=BLACK)

fig.savefig("out.png", dpi=100)
